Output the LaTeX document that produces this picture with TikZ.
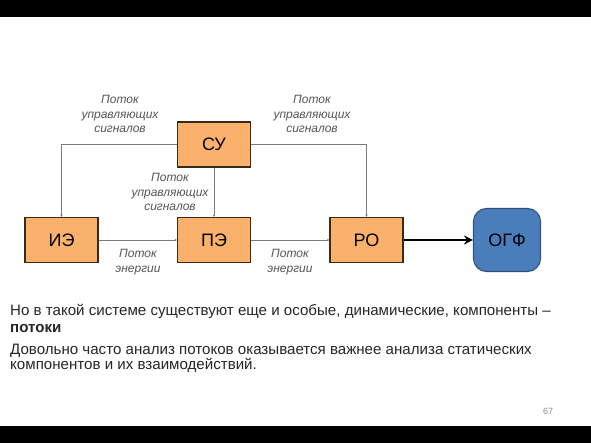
\documentclass[tikz,border=0pt]{standalone}
\usepackage{fontspec}
\setmainfont{Liberation Sans}
\usetikzlibrary{
  arrows.meta,
  positioning
}
\definecolor{boxfill}{HTML}{FAB16C}
\definecolor{boxline}{HTML}{3A2A1A}
\definecolor{goalfill}{HTML}{4A7EBB}
\definecolor{goalline}{HTML}{2D5283}
\definecolor{notegray}{HTML}{555555}
\definecolor{linegray}{HTML}{7A7A7A}
\tikzset{
  unit/.style={draw=boxline, fill=boxfill, line width=1.1pt,
    minimum width=73pt, minimum height=45pt, inner sep=0pt,
    font=\fontsize{18}{20}\selectfont},
  goal/.style={draw=goalline, fill=goalfill, line width=1.1pt, rounded corners=13pt,
    minimum width=67pt, minimum height=63pt, inner sep=0pt,
    font=\fontsize{18}{20}\selectfont},
  flow/.style={-{Stealth[length=2.5pt, width=2.5pt]}, draw=linegray, line width=0.9pt},
  result/.style={-{Stealth[length=9pt, width=9pt, inset=3pt]}, line width=2.4pt},
  note/.style={font=\fontsize{12}{14.5}\selectfont\itshape, text=notegray, align=center},
  body/.style={font=\fontsize{15.1}{17}\selectfont, text=black!85, anchor=base west, inner sep=0pt},
}
\begin{document}
\begin{tikzpicture}[x=1pt, y=-1pt]
\useasboundingbox (0,0) rectangle (591,443);

% --- slide bars ---
\fill[black] (0,0) rectangle (591,17);
\fill[black] (0,426) rectangle (591,443);

% --- blocks ---
\node[unit] (su) at (214,144.5) {СУ};
\node[unit] (ie) at (61.5,240) {ИЭ};
\node[unit] (pe) at (214,240) {ПЭ};
\node[unit] (ro) at (366.5,240) {РО};
\node[goal] (ogf) at (507,240) {ОГФ};

% --- flows ---
\draw[flow] (su.west) -| (ie.north);
\draw[flow] (su.east) -| (ro.north);
\draw[flow] (su) -- (pe);
\draw[flow] (ie) -- (pe);
\draw[flow] (pe) -- (ro);
\draw[result] (ro) -- (ogf);

% --- flow labels ---
\node[note] (ctlA) at (120,114) {Поток\\управляющих\\сигналов};
\node[note] (ctlB) at (312,114) {Поток\\управляющих\\сигналов};
\node[note] (ctlC) at (170,192) {Поток\\управляющих\\сигналов};
\node[note] (enA) at (138,262) {Поток\\энергии};
\node[note] (enB) at (290,262) {Поток\\энергии};

% --- text below ---
\node[body] (t1) at (10,316) {Но в такой системе существуют еще и особые, динамические, компоненты –};
\node[body, font=\fontsize{15.1}{17}\selectfont\bfseries] (t2) at (10,332) {потоки};
\node[body] (t3) at (10,354) {Довольно часто анализ потоков оказывается важнее анализа статических};
\node[body] (t4) at (10,369) {компонентов и их взаимодействий.};

\node[font=\fontsize{9}{10}\selectfont, text=black!45] (pg) at (548,411) {67};

\end{tikzpicture}
\end{document}
